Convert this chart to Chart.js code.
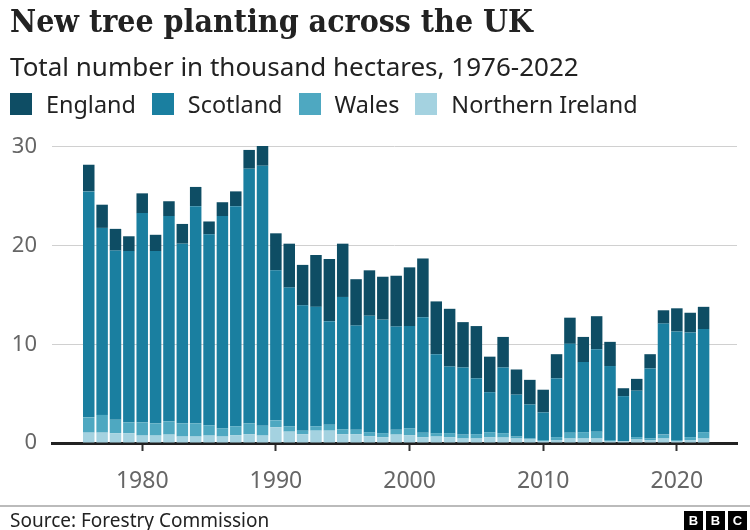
<!DOCTYPE html>
<html>
<head>
<meta charset="utf-8">
<script src="https://cdn.jsdelivr.net/npm/chart.js@4.4.1/dist/chart.umd.min.js"></script>
<style>
  html, body { margin: 0; padding: 0; background: #fff; }
  #wrap { position: relative; width: 750px; height: 530px; overflow: hidden; font-family: "Noto Sans", sans-serif; }
  #chart { position: absolute; left: 0; top: 0; }
  .title { position: absolute; left: 10px; top: 2px; font: bold 31.8px "DejaVu Serif Condensed", "DejaVu Serif", serif; color: #222; white-space: nowrap; }
  .subtitle { position: absolute; left: 10px; top: 48px; font: 26px "Noto Sans", sans-serif; color: #222; white-space: nowrap; }
  .legend { position: absolute; left: 10px; top: 88px; display: flex; font: 23.4px "Noto Sans", sans-serif; color: #222; }
  .legend span { display: flex; align-items: center; margin-right: 16px; white-space: nowrap; }
  .legend i { display: inline-block; width: 22px; height: 22px; margin-right: 14px; }
  .rule { position: absolute; left: 0; top: 505px; width: 750px; height: 2px; background: #bbb; }
  .source { position: absolute; left: 10px; top: 507px; font: 19px "Noto Sans", sans-serif; color: #222; }
  .bbc { position: absolute; right: 3px; top: 511px; display: flex; }
  .bbc b { width: 19px; height: 19px; margin-left: 3px; background: #000; color: #fff; font: bold 13px "Liberation Sans", sans-serif; display: flex; align-items: center; justify-content: center; }
</style>
</head>
<body>
<div id="wrap">
  <canvas id="chart" width="750" height="530"></canvas>
  <div class="title">New tree planting across the UK</div>
  <div class="subtitle">Total number in thousand hectares, 1976-2022</div>
  <div class="legend" id="legend"></div>
  <div class="rule"></div>
  <div class="source">Source: Forestry Commission</div>
  <div class="bbc"><b>B</b><b>B</b><b>C</b></div>
</div>
<script>
// New planting by country, thousand hectares
const years = [];
for (let y = 1976; y <= 2022; y++) years.push(y);

const northernIreland = [
  1.05, 1.05, 1.0, 1.0, 0.75, 0.75, 0.85, 0.65, 0.65, 0.75,
  0.65, 0.8, 0.9, 0.75, 1.6, 1.15, 0.9, 1.25, 1.25, 0.9,
  0.9, 0.7, 0.6, 0.85, 0.8, 0.6, 0.65, 0.6, 0.45, 0.45,
  0.6, 0.55, 0.45, 0.35, 0.2, 0.3, 0.45, 0.45, 0.45, 0.2,
  0.15, 0.35, 0.3, 0.45, 0.2, 0.3, 0.45
];
const wales = [
  1.55, 1.8, 1.35, 1.1, 1.35, 1.25, 1.35, 1.35, 1.35, 1.05,
  0.85, 0.9, 1.1, 1.0, 0.7, 0.55, 0.35, 0.45, 0.6, 0.5,
  0.45, 0.4, 0.4, 0.5, 0.7, 0.45, 0.35, 0.4, 0.4, 0.45,
  0.5, 0.45, 0.2, 0.1, 0.1, 0.3, 0.6, 0.65, 0.7, 0.1,
  0.05, 0.25, 0.15, 0.4, 0.1, 0.3, 0.65
];
const scotland = [
  22.9, 18.95, 17.15, 17.35, 21.2, 17.45, 20.8, 18.2, 22.0, 19.35,
  21.5, 22.3, 25.8, 26.35, 15.2, 14.05, 12.7, 12.1, 10.5, 13.4,
  10.55, 11.8, 11.5, 10.45, 10.35, 11.7, 8.0, 6.75, 6.8, 5.65,
  4.05, 6.65, 4.25, 3.45, 2.8, 5.95, 9.0, 7.1, 8.35, 7.5,
  4.55, 4.7, 7.1, 11.25, 11.0, 10.6, 10.45
];
const england = [
  2.7, 2.35, 2.2, 1.5, 2.0, 1.65, 1.5, 2.0, 1.95, 1.3,
  1.4, 1.5, 1.9, 2.0, 3.75, 4.45, 4.1, 5.25, 6.3, 5.4,
  4.7, 4.6, 4.35, 5.15, 5.95, 5.95, 5.35, 5.85, 4.6, 5.3,
  3.6, 3.1, 2.55, 2.5, 2.3, 2.45, 2.65, 2.55, 3.35, 2.45,
  0.8, 1.2, 1.45, 1.35, 2.35, 2.0, 2.25
];

const yTicks = [0, 10, 20, 30];
const xTicks = [1980, 1990, 2000, 2010, 2020];

const series = [
  { label: 'Northern Ireland', data: northernIreland, color: '#a4d2e0' },
  { label: 'Wales', data: wales, color: '#4ea8c1' },
  { label: 'Scotland', data: scotland, color: '#1a7fa0' },
  { label: 'England', data: england, color: '#0e4d64' }
];

// legend runs top of stack first
const legend = document.getElementById('legend');
series.slice().reverse().forEach(s => {
  const item = document.createElement('span');
  item.innerHTML = '<i style="background:' + s.color + '"></i>' + s.label;
  legend.appendChild(item);
});

Chart.defaults.font.family = '"Noto Sans", sans-serif';

new Chart(document.getElementById('chart'), {
  type: 'bar',
  data: {
    datasets: series.map(s => ({
      label: s.label,
      data: s.data.map((v, i) => ({ x: years[i], y: v })),
      backgroundColor: s.color,
      borderWidth: 0,
      barPercentage: 1,
      categoryPercentage: 0.86
    }))
  },
  options: {
    responsive: false,
    animation: false,
    layout: { padding: { top: 145, right: 13, bottom: 42, left: 0 } },
    plugins: { legend: { display: false }, tooltip: { enabled: false } },
    scales: {
      x: {
        type: 'linear',
        stacked: true,
        offset: false,
        min: 1973.25,
        max: 2024.5,
        afterBuildTicks: s => { s.ticks = xTicks.map(v => ({ value: v })); },
        afterFit: s => { s.height = 45; },
        grid: { offset: false, drawOnChartArea: false, drawTicks: true, tickLength: 8, tickWidth: 2, color: '#333' },
        border: { display: true, color: '#222', width: 3 },
        ticks: { padding: 17, color: '#666', font: { size: 23 }, callback: v => String(v) }
      },
      y: {
        stacked: true,
        min: 0,
        max: 30.2,
        afterBuildTicks: s => { s.ticks = yTicks.map(v => ({ value: v })); },
        afterFit: s => { s.width = 52; },
        grid: { drawTicks: false, color: c => c.tick && c.tick.value === 0 ? 'transparent' : '#d0d0d0', lineWidth: 1 },
        border: { display: false },
        ticks: { padding: 15, color: '#666', font: { size: 22 } }
      }
    }
  }
});
</script>
</body>
</html>
